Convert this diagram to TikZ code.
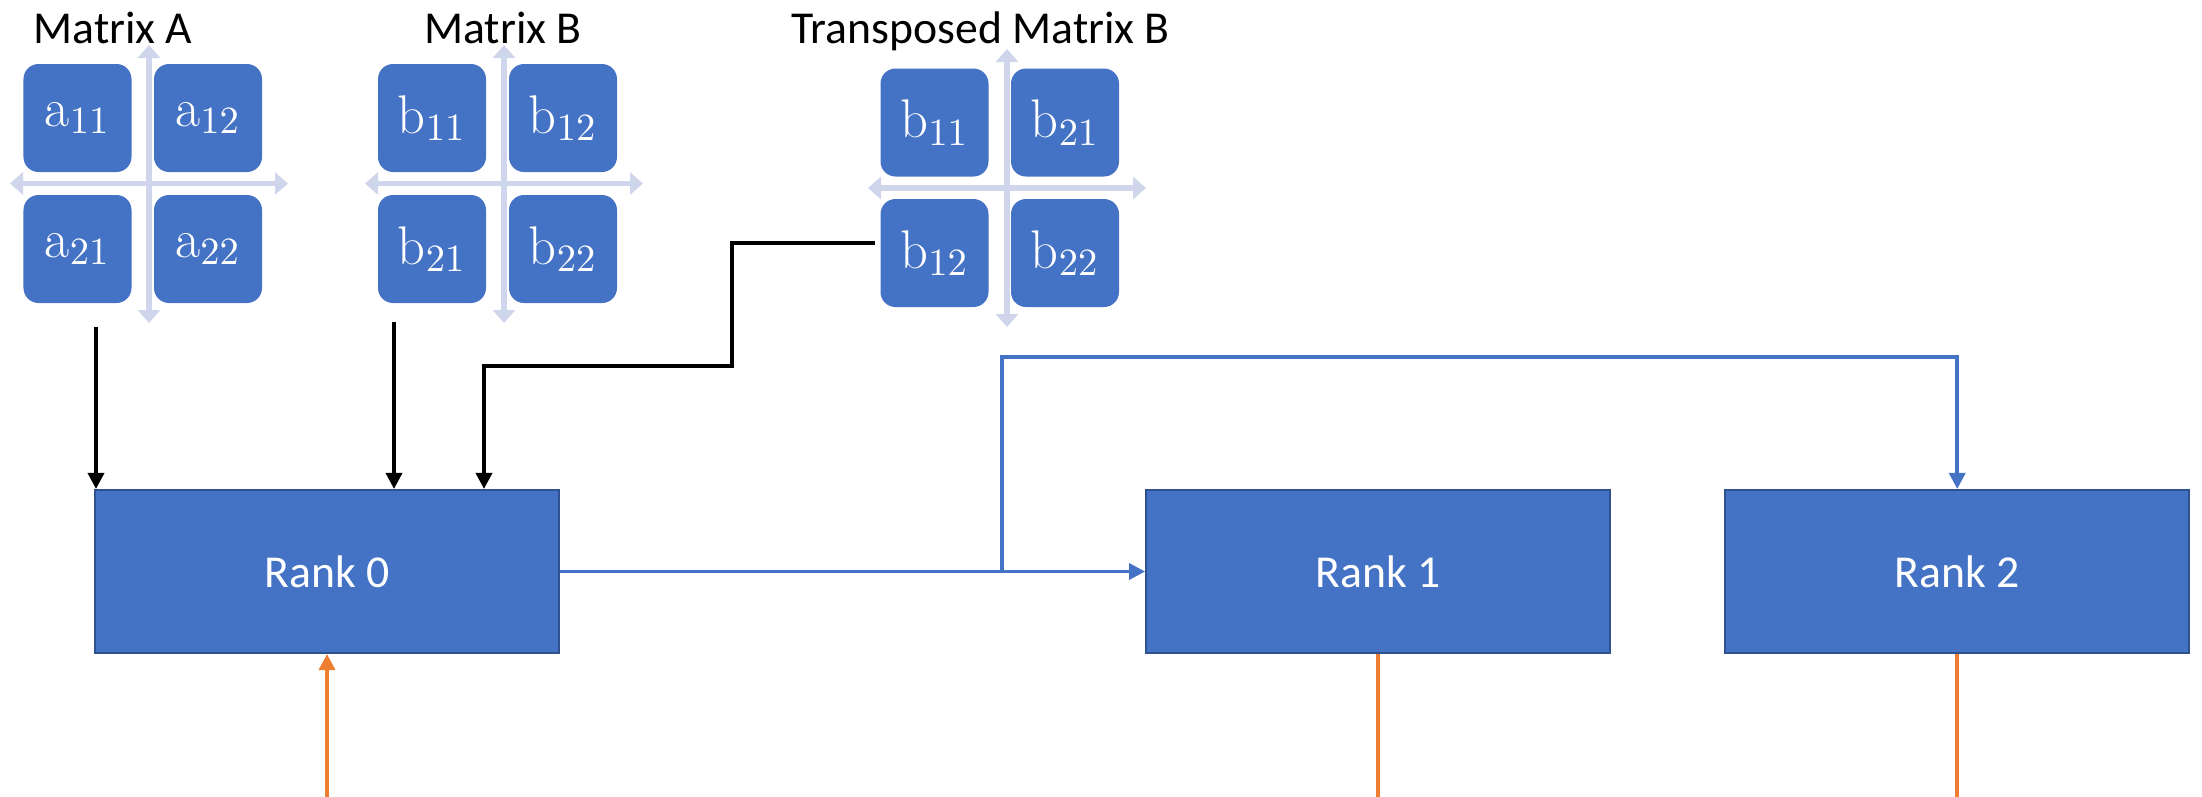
\documentclass[tikz,border=0pt]{standalone}
\usepackage{fontspec}
\newfontfamily\labelfont{Carlito}
\usepackage{tikz}
\usetikzlibrary{arrows.meta}
\usetikzlibrary{positioning}
\definecolor{cellblue}{HTML}{4472C4}
\definecolor{rankedge}{HTML}{2F528F}
\definecolor{axisgray}{HTML}{CFD5EA}
\definecolor{linkorange}{HTML}{ED7D31}
\tikzset{
  cell/.style={fill=cellblue, rounded corners=0.15cm, minimum width=1.08cm, minimum height=1.08cm,
    inner sep=0pt, text=white, font=\fontsize{15.5}{17}\selectfont},
  rank/.style={fill=cellblue, draw=rankedge, line width=0.6pt, minimum width=4.64cm, minimum height=1.63cm,
    text=white, font=\labelfont\fontsize{13}{15}\selectfont},
  caption/.style={anchor=base, inner sep=0pt, font=\labelfont\fontsize{13}{15}\selectfont},
  axis/.style={draw=axisgray, line width=1.7pt, {Triangle[width=2.2mm,length=1.3mm]}-{Triangle[width=2.2mm,length=1.3mm]}},
  conn/.style={->, line width=1pt, black},
  bconn/.style={->, line width=1pt, cellblue},
  oconn/.style={line width=1pt, linkorange},
}
\begin{document}
\begin{tikzpicture}[line join=miter, >={Triangle[width=1.6mm,length=1.6mm]}]
  \useasboundingbox (0,0) rectangle (22.02,-7.96);
  %--- Matrix A
    \node[caption] (capA) at (1.13,-0.43) {Matrix A};
    \draw[axis] (1.49,-0.45) -- (1.49,-3.23);
    \draw[axis] (0.10,-1.835) -- (2.88,-1.835);
    \node[cell] (a11) at (0.775,-1.18) {$\mathrm{a}_{11}$};
    \node[cell] (a12) at (2.08,-1.18) {$\mathrm{a}_{12}$};
    \node[cell] (a21) at (0.775,-2.49) {$\mathrm{a}_{21}$};
    \node[cell] (a22) at (2.08,-2.49) {$\mathrm{a}_{22}$};
  %--- Matrix B
    \node[caption] (capB) at (5.03,-0.43) {Matrix B};
    \draw[axis] (5.04,-0.45) -- (5.04,-3.23);
    \draw[axis] (3.65,-1.835) -- (6.43,-1.835);
    \node[cell] (b11) at (4.32,-1.18) {$\mathrm{b}_{11}$};
    \node[cell] (b12) at (5.63,-1.18) {$\mathrm{b}_{12}$};
    \node[cell] (b21) at (4.32,-2.49) {$\mathrm{b}_{21}$};
    \node[cell] (b22) at (5.63,-2.49) {$\mathrm{b}_{22}$};
  %--- Transposed Matrix B
    \node[caption] (capT) at (9.805,-0.43) {Transposed Matrix B};
    \draw[axis] (10.07,-0.49) -- (10.07,-3.27);
    \draw[axis] (8.68,-1.88) -- (11.46,-1.88);
    \node[cell] (tb11) at (9.345,-1.225) {$\mathrm{b}_{11}$};
    \node[cell] (tb21) at (10.65,-1.225) {$\mathrm{b}_{21}$};
    \node[cell] (tb12) at (9.345,-2.53) {$\mathrm{b}_{12}$};
    \node[cell] (tb22) at (10.65,-2.53) {$\mathrm{b}_{22}$};
  %--- Ranks
    \node[rank] (rank0) at (3.27,-5.715) {Rank 0};
    \node[rank, right=5.85cm of rank0] (rank1) {Rank 1};
    \node[rank, right=1.13cm of rank1] (rank2) {Rank 2};
  %--- Inputs of rank 0
    \coordinate (srcA) at (0.96,-3.27);
    \coordinate (srcB) at (3.94,-3.22);
    \coordinate (tcorner) at (7.32,-3.66);
    \coordinate (tdrop) at (4.84,-3.66);
    \draw[conn] (srcA) -- (srcA |- rank0.north);
    \draw[conn] (srcB) -- (srcB |- rank0.north);
    \draw[conn] ([xshift=-0.05cm,yshift=0.1cm]tb12.west) -| (tcorner) -- (tdrop) -- (tdrop |- rank0.north);
  %--- Send
    \coordinate (split) at (10.02,-5.715);
    \coordinate (overhead) at (10.02,-3.57);
    \draw[bconn] (rank0.east) -- (rank1.west);
    \draw[bconn] (split) -- (overhead) -| (rank2.north);
  %--- Gather
    \coordinate (bus) at (0,-8.05);
    \draw[oconn, ->] (rank2.south) -- (rank2.south |- bus) -- (rank0.south |- bus) -- (rank0.south);
    \draw[oconn] (rank1.south) -- (rank1.south |- bus);
\end{tikzpicture}
\end{document}
